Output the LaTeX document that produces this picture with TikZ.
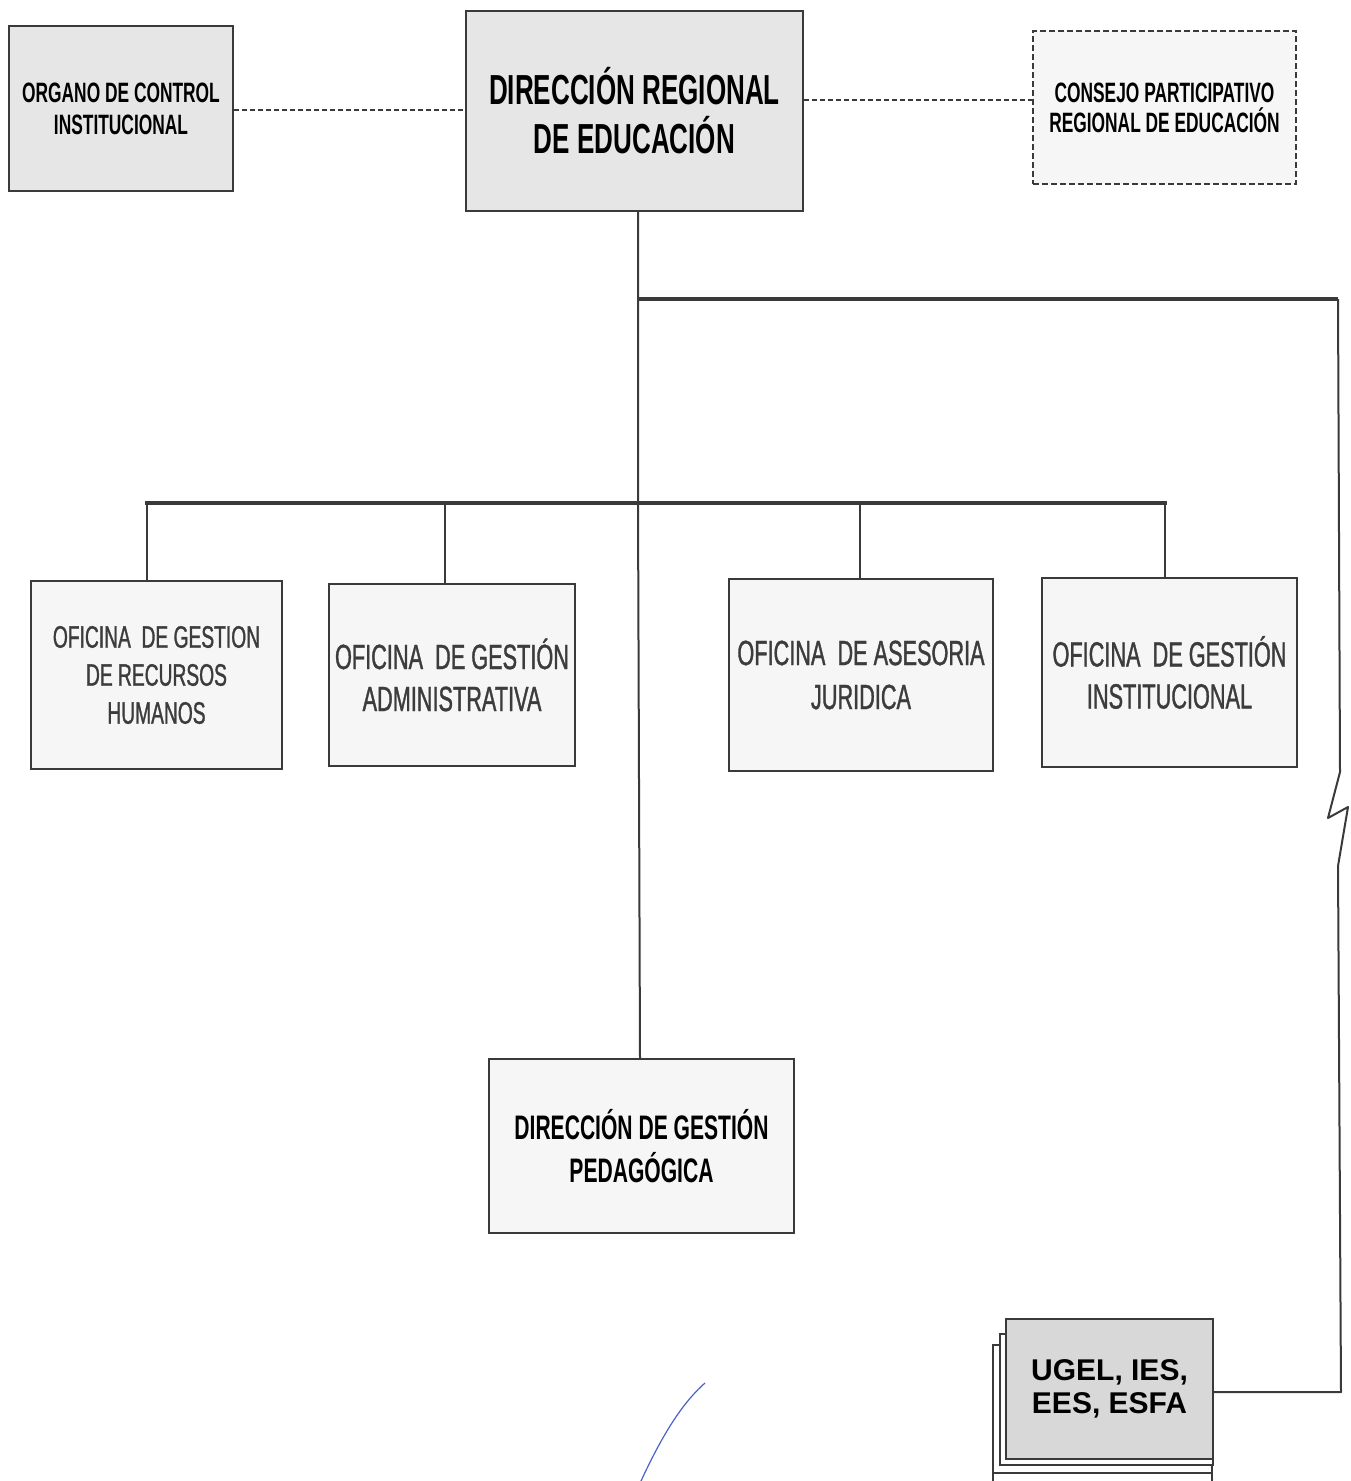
\documentclass[tikz,border=0pt]{standalone}
\usepackage{fontspec}
\setmainfont{Liberation Sans}
\newfontfamily\nar[FakeStretch=0.62]{Liberation Sans}
\newfontfamily\narm[FakeStretch=0.62, FakeBold=1.0]{Liberation Sans}
\definecolor{ink}{HTML}{3A3A3A}
\definecolor{offtext}{HTML}{3C3C3C}
\definecolor{fillA}{HTML}{E6E6E6}
\definecolor{fillB}{HTML}{F6F6F6}
\definecolor{fillC}{HTML}{D8D8D8}
\definecolor{pen}{HTML}{4A63C8}
\begin{document}
\begin{tikzpicture}[x=1pt,y=-1pt,
  box/.style={draw=ink, line width=2pt, anchor=north west, inner sep=0pt, align=center, text=black},
  topbox/.style={box, fill=fillA},
  offbox/.style={box, fill=fillB, text=offtext},
  dashline/.style={draw=ink, line width=2pt, dash pattern=on 5pt off 3pt},
  thin/.style={draw=ink, line width=2pt},
  thick/.style={draw=ink, line width=4pt}
]
\useasboundingbox (0,0) rectangle (1351,1481);
\fill[white] (0,0) rectangle (1351,1481);

% top row
\node[topbox, minimum width=224pt, minimum height=165pt,
  font=\nar\bfseries\fontsize{28}{32}\selectfont] (org) at (8,25)
  {ORGANO DE CONTROL\\INSTITUCIONAL};
\node[topbox, minimum width=337pt, minimum height=200pt,
  font=\nar\bfseries\fontsize{42}{49}\selectfont] (dre) at (465,10)
  {DIRECCIÓN REGIONAL\\DE EDUCACIÓN};
\node[box, fill=fillB, dash pattern=on 6pt off 3pt, minimum width=263pt, minimum height=153pt,
  font=\nar\bfseries\fontsize{28}{30}\selectfont] (cons) at (1032,30)
  {CONSEJO PARTICIPATIVO\\REGIONAL DE EDUCACIÓN};

\draw[dashline] (org.east |- 0,110) -- (dre.west |- 0,110);
\draw[dashline] (dre.east |- 0,100) -- (cons.west |- 0,100);

% offices
\node[offbox, minimum width=251pt, minimum height=188pt,
  font=\narm\fontsize{31}{38}\selectfont] (rrhh) at (30,580)
  {OFICINA\ \ DE GESTION\\DE RECURSOS\\HUMANOS};
\node[offbox, minimum width=246pt, minimum height=182pt,
  font=\narm\fontsize{35}{42}\selectfont] (adm) at (328,583)
  {OFICINA\ \ DE GESTIÓN\\ADMINISTRATIVA};
\node[offbox, minimum width=264pt, minimum height=192pt,
  font=\narm\fontsize{35}{44}\selectfont] (jur) at (728,578)
  {OFICINA\ \ DE ASESORIA\\JURIDICA};
\node[offbox, minimum width=255pt, minimum height=189pt,
  font=\narm\fontsize{35}{42}\selectfont] (inst) at (1041,577)
  {OFICINA\ \ DE GESTIÓN\\INSTITUCIONAL};

% pedagogical direction
\node[box, fill=fillB, minimum width=305pt, minimum height=174pt,
  font=\nar\bfseries\fontsize{34}{43}\selectfont] (dgp) at (488,1058)
  {DIRECCIÓN DE GESTIÓN\\PEDAGÓGICA};

% UGEL stack
\draw[ink, line width=2pt] (993,1481) -- (993,1345) -- (999,1345);
\draw[ink, line width=2pt] (1212,1481) -- (1212,1460);
\draw[ink, line width=2pt] (993,1473) -- (1212,1473);
\node[box, fill=white, minimum width=213pt, minimum height=131pt] (ugel2) at (999,1333) {};
\node[box, fill=fillC, minimum width=207pt, minimum height=140pt,
  font=\bfseries\fontsize{30}{33}\selectfont] (ugel) at (1005,1318)
  {UGEL, IES,\\EES, ESFA};

% connectors
\coordinate (j1) at (638,299);
\coordinate (j2) at (638,503);
\coordinate (r1) at (1338,299);
\coordinate (z1) at (1340,772);
\coordinate (z2) at (1328,818);
\coordinate (z3) at (1348,807);
\coordinate (z4) at (1338,866);
\coordinate (r2) at (1341,1392);
\coordinate (hL) at (145,503);
\coordinate (hR) at (1167,503);

\draw[thin] (dre.south -| j1) -- (j1) -- (j2) -- (dgp.north -| 640,0);
\draw[thick] (j1) -- (r1);
\draw[thin, line join=round] (r1) -- (z1) -- (z2) -- (z3) -- (z4) -- (r2) -- (ugel.east |- r2);
\draw[thick] (hL) -- (hR);
\draw[thin] (147,503) -- (rrhh.north -| 147,0);
\draw[thin] (445,503) -- (adm.north -| 445,0);
\draw[thin] (860,503) -- (jur.north -| 860,0);
\draw[thin] (1165,503) -- (inst.north -| 1165,0);

% pen mark
\draw[pen, line width=1.2pt] (641,1481) .. controls (660,1440) and (680,1405) .. (705,1383);
\end{tikzpicture}
\end{document}
